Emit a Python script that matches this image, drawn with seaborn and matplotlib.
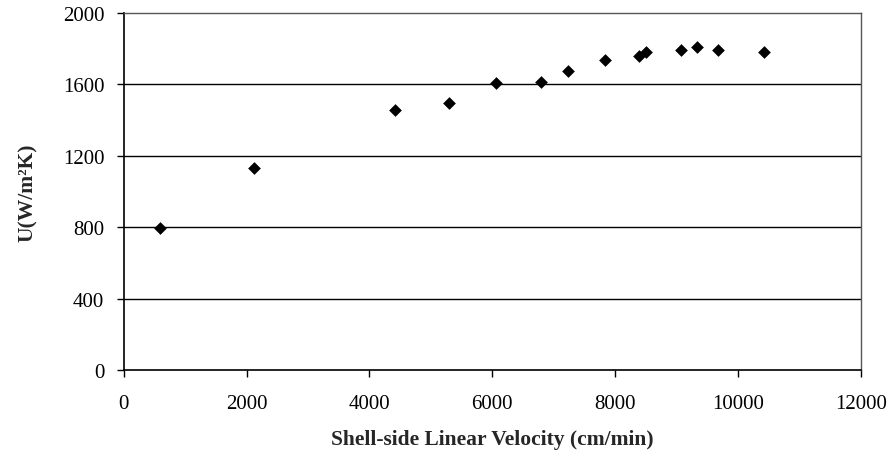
"""Overall heat transfer coefficient vs shell-side linear velocity."""

import matplotlib
matplotlib.use("Agg")
import matplotlib.pyplot as plt
import pandas as pd
import seaborn as sns

velocity = [590, 2120, 4410, 5300, 6070, 6800, 7240, 7840, 8390, 8510, 9070, 9330, 9670, 10430]
u_value = [795, 1130, 1455, 1494, 1606, 1615, 1677, 1735, 1759, 1782, 1793, 1808, 1793, 1780]
x_ticks = [0, 2000, 4000, 6000, 8000, 10000, 12000]
y_ticks = [0, 400, 800, 1200, 1600, 2000]

df = pd.DataFrame({"velocity": velocity, "U": u_value})

sns.set_style("white")
plt.rcParams["font.family"] = ["Liberation Serif", "DejaVu Serif"]

fig = plt.figure(figsize=(8.9, 4.52), dpi=100)
ax = fig.add_axes([0.139, 0.179, 0.828, 0.790])

for y in y_ticks[1:-1]:
    ax.axhline(y, color="black", lw=1.0, zorder=1)

sns.scatterplot(data=df, x="velocity", y="U", marker="D", color="black",
                s=42, edgecolor="black", linewidth=0, ax=ax, zorder=3)

ax.set_xlim(0, 12000)
ax.set_ylim(0, 2000)
ax.set_xticks(x_ticks)
ax.set_yticks(y_ticks)
ax.tick_params(axis="both", direction="out", length=5, width=1, labelsize=15,
               colors="black", left=True, bottom=True)
ax.tick_params(axis="x", pad=12)
ax.tick_params(axis="y", pad=9)
for side in ["left", "bottom"]:
    ax.spines[side].set_color("black")
    ax.spines[side].set_linewidth(1.2)
for side in ["top", "right"]:
    ax.spines[side].set_color("#555555")
    ax.spines[side].set_linewidth(1.0)

ax.set_xlabel("Shell-side Linear Velocity (cm/min)", fontsize=15.5, fontweight="bold", labelpad=12)
ax.set_ylabel("U(W/m²K)", fontsize=15.5, fontweight="bold", labelpad=18)

fig.savefig("out.png", dpi=100)
plt.close(fig)
